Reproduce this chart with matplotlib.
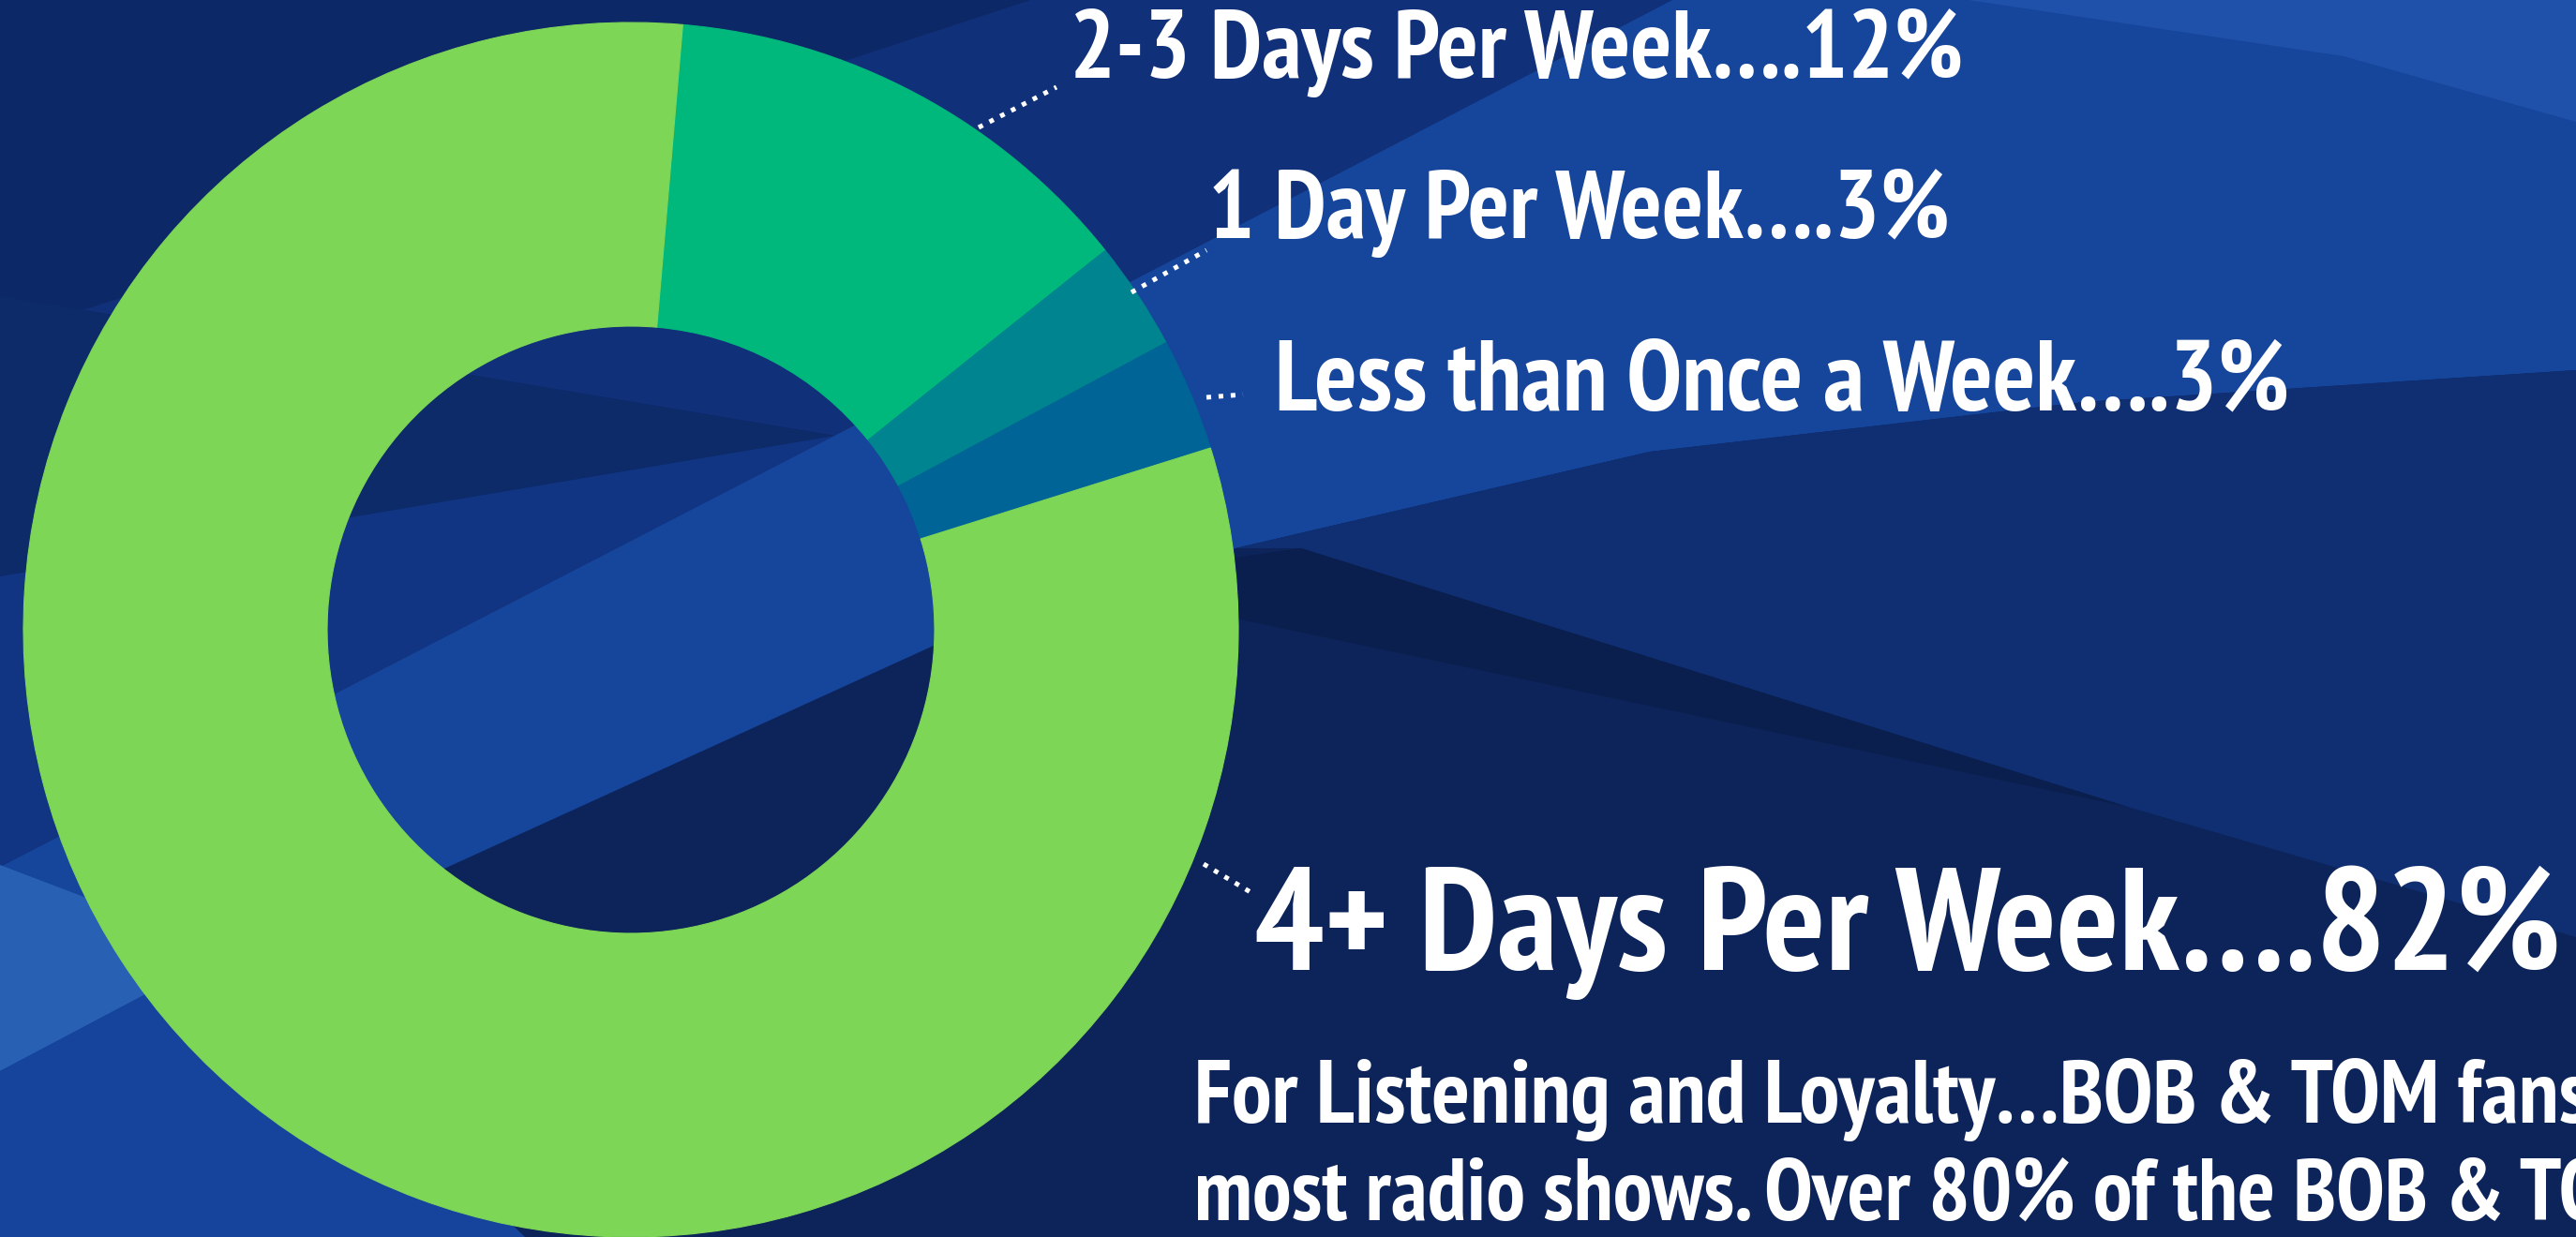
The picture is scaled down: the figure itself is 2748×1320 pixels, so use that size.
"""
Donut chart: how often BOB & TOM fans listen
"""
import os

import matplotlib
matplotlib.use("Agg")
import matplotlib.pyplot as plt
from matplotlib import font_manager
from matplotlib.patches import Polygon

W, H = 2748, 1320

# slice data, clockwise from the top
categories = ["2-3 Days Per Week", "1 Day Per Week", "Less than Once a Week", "4+ Days Per Week"]
shares = [12.9, 2.9, 3.0, 81.2]          # slice sizes as drawn
pct_text = ["12%", "3%", "3%", "82%"]     # values printed in the labels
colors = ["#00b87c", "#00848f", "#006596", "#7ed657"]

body_lines = [
    "For Listening and Loyalty\u2026BOB & TOM fans",
    "most radio shows. Over 80% of the BOB & TOM",
]


def condensed_bold_font():
    """Look for a narrow/condensed bold face, fall back to a plain bold sans"""
    rank = {"condensed": 0, "semi-condensed": 1, "extra-condensed": 2, "ultra-condensed": 3}
    best, best_score = None, None
    for f in font_manager.fontManager.ttflist:
        w = f.weight if isinstance(f.weight, int) else font_manager.weight_dict.get(f.weight, 400)
        if w < 600 or w > 800 or f.style != "normal":
            continue
        base = os.path.basename(f.fname)
        if "Narrow" in f.name or "Narrow" in base:
            score = 0
        elif f.stretch in rank:
            score = rank[f.stretch] + 1
        elif "Condensed" in f.name or "Condensed" in base:
            score = 2
        else:
            continue
        if "Mono" in base or "Serif" in base:
            continue
        score += abs(w - 700) / 1000
        if best_score is None or score < best_score:
            best, best_score = f.fname, score
    if best:
        return font_manager.FontProperties(fname=best)
    return font_manager.FontProperties(family="Liberation Sans", weight="bold")


FP = condensed_bold_font()

fig = plt.figure(figsize=(W / 100, H / 100), dpi=100)

# background: flat facets of blue, in pixel coords (y down)
bg = fig.add_axes([0, 0, 1, 1], zorder=0)
bg.set_xlim(0, W)
bg.set_ylim(H, 0)
bg.axis("off")
bg.add_patch(Polygon([(0, 0), (W, 0), (W, H), (0, H)], color="#0c2459"))
facets = [
    ([(0, 0), (1784, 0), (890, 465), (0, 316)], "#10317a"),
    ([(0, 0), (1100, 0), (0, 360)], "#0d2866"),
    ([(0, 316), (890, 465), (0, 615)], "#0d2a69"),
    ([(0, 615), (890, 465), (0, 925)], "#113583"),
    ([(0, 925), (890, 465), (1784, 0), (W, 0), (W, 395), (2223, 429), (1760, 482),
      (1318, 585), (998, 688), (0, 1143)], "#16459c"),
    ([(2100, 0), (W, 0), (W, 130), (2500, 60)], "#1f51aa"),
    ([(0, 923), (242, 1015), (0, 1143)], "#2860b4"),
    ([(0, 1143), (242, 1015), (560, H), (0, H)], "#16449c"),
    ([(1318, 585), (1760, 482), (2223, 429), (W, 395), (W, 1000), (2270, 861),
      (1388, 585)], "#0f2f72"),
    ([(1318, 595), (1388, 585), (2270, 861), (1318, 660)], "#0a1f4d"),
]
for pts, c in facets:
    bg.add_patch(Polygon(pts, closed=True, color=c, lw=0))

# donut
ax = fig.add_axes([0, 0, 1, 1], zorder=1)
ax.set_facecolor("none")
cx, cy, R = 673, H - 672, 648
wedges, _ = ax.pie(shares, colors=colors, startangle=90 - 4.9, counterclock=False,
                   radius=R, center=(cx, cy), wedgeprops=dict(width=R / 2))
for w, c in zip(wedges, colors):
    w.set_edgecolor(c)
    w.set_linewidth(0.8)
ax.set_xlim(0, W)
ax.set_ylim(0, H)
ax.set_aspect("auto")
ax.axis("off")

renderer = fig.canvas.get_renderer()


def put_text(x, y, s, size, fit_width=None, fit_prefix=None):
    t = ax.text(x, H - y, s, color="white", fontproperties=FP, fontsize=size,
                va="baseline", ha="left")
    if fit_width:
        probe = t
        if fit_prefix:
            probe = ax.text(x, H - y, fit_prefix, fontproperties=FP, fontsize=size)
        w = probe.get_window_extent(renderer).width
        if fit_prefix:
            probe.remove()
        t.set_fontsize(size * fit_width / w)
    return t


# labels: left x, baseline y (pixels from top), target width
label_pos = [(1141, 83, 953), (1289, 254, 791), (1360, 437, 1082), (1338, 1035, 1394)]
for cat, pct, (x, y, tw) in zip(categories, pct_text, label_pos):
    put_text(x, y, cat + "\u2026." + pct, 69, fit_width=tw)

# dotted leader lines
leaders = [((1044, 136), (1127, 93)), ((1207, 312), (1287, 267)),
           ((1287, 424), (1326, 421)), ((1284, 922), (1334, 952))]
for (x1, y1), (x2, y2) in leaders:
    ax.plot([x1, x2], [H - y1, H - y2], color="white", lw=3.6,
            linestyle=(0, (1, 1.6)), dash_capstyle="butt")

# body copy runs off the right edge, as in the slide
put_text(1274, 1198, body_lines[0], 55, fit_width=1328,
         fit_prefix="For Listening and Loyalty\u2026BOB & TOM")
put_text(1274, 1302, body_lines[1], 55, fit_width=1397,
         fit_prefix="most radio shows. Over 80% of the BOB &")

fig.savefig("out.png", dpi=100)
